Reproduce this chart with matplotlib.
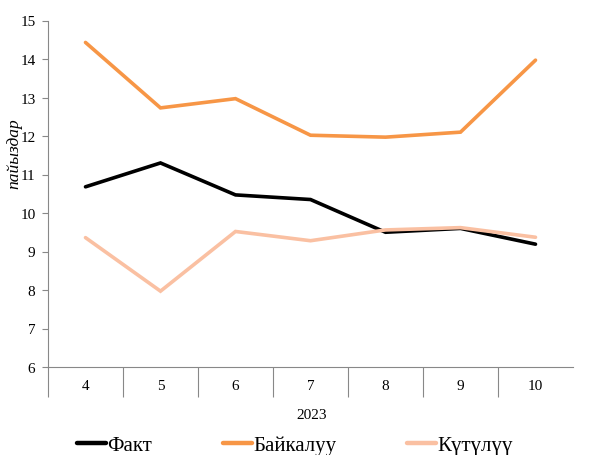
import matplotlib
matplotlib.use("Agg")
import matplotlib.pyplot as plt
from matplotlib.ticker import FixedLocator

plt.rcParams['font.family'] = ['Liberation Serif', 'DejaVu Serif']

months = ["4", "5", "6", "7", "8", "9", "10"]
year_label = "2023"
fact = [10.68, 11.30, 10.47, 10.35, 9.50, 9.60, 9.19]
baikaluu = [14.43, 12.73, 12.97, 12.02, 11.97, 12.10, 13.97]
kutuluu = [9.36, 7.97, 9.52, 9.28, 9.56, 9.62, 9.37]
series_names = ["Факт", "Байкалуу", "Күтүлүү"]
y_title = "пайыздар"

colors = ["#000000", "#F79646", "#FAC0A2"]

fig = plt.figure(figsize=(5.95, 4.56), dpi=100)
ax = fig.add_axes([48 / 595, 88 / 456, 525 / 595, 346.5 / 456])

x = list(range(len(months)))
for vals, name, col in zip([fact, baikaluu, kutuluu], series_names, colors):
    ax.plot(x, vals, color=col, lw=2.6, label=name, solid_capstyle='round',
            solid_joinstyle='miter')

ax.set_xlim(-0.5, len(months) - 0.5)
ax.set_ylim(6, 15)
ax.set_yticks(range(6, 16))
ax.tick_params(axis='y', direction='out', length=4, width=0.8, color='#888888',
               labelsize=11, pad=5)

ax.set_xticks(x)
ax.set_xticklabels(months)
ax.tick_params(axis='x', which='major', length=0, labelsize=11, pad=9)
ax.xaxis.set_minor_locator(FixedLocator([i - 0.5 for i in range(len(months))]))
ax.tick_params(axis='x', which='minor', direction='out', length=21.5, width=0.8,
               color='#888888')

for s in ['top', 'right']:
    ax.spines[s].set_visible(False)
for s in ['left', 'bottom']:
    ax.spines[s].set_color('#888888')
    ax.spines[s].set_linewidth(0.8)

fig.text(312 / 595, 1 - 416 / 456, year_label, ha='center', va='center', fontsize=11)
fig.text(14 / 595, 1 - 154 / 456, y_title, ha='center', va='center', rotation=90,
         fontsize=12.5, style='italic')

leg = fig.legend(loc='center', bbox_to_anchor=(295 / 595, 1 - 446 / 456), ncol=3,
                 frameon=False, fontsize=15, handlelength=1.4, handletextpad=0.05,
                 columnspacing=3.4, borderpad=0)
for line in leg.get_lines():
    line.set_linewidth(3.2)

fig.savefig("out.png", dpi=100)
